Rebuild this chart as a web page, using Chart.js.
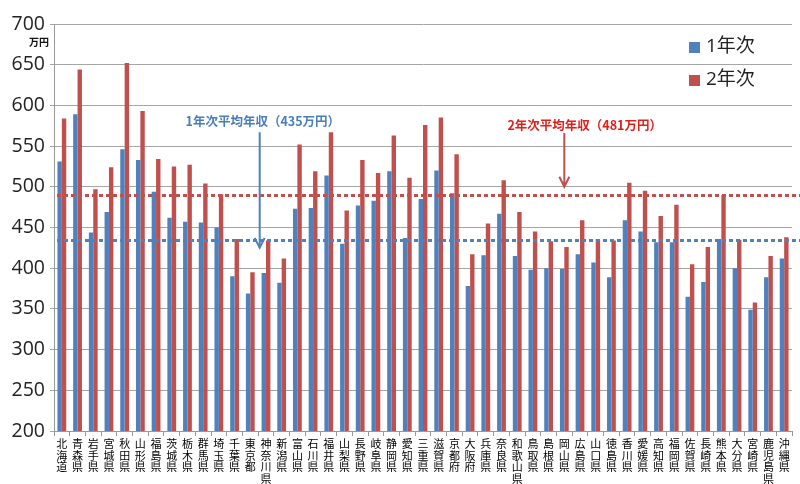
<!DOCTYPE html>
<html>
<head>
<meta charset="utf-8">
<script src="https://cdn.jsdelivr.net/npm/chart.js@4.4.1/dist/chart.umd.min.js"></script>
<style>
  html, body { margin: 0; padding: 0; background: #fff; }
  #wrap { width: 800px; height: 484px; }
</style>
</head>
<body>
<div id="wrap"><canvas id="c" width="800" height="484"></canvas></div>
<script>
const prefectures = ['北海道','青森県','岩手県','宮城県','秋田県','山形県','福島県','茨城県','栃木県','群馬県',
  '埼玉県','千葉県','東京都','神奈川県','新潟県','富山県','石川県','福井県','山梨県','長野県',
  '岐阜県','静岡県','愛知県','三重県','滋賀県','京都府','大阪府','兵庫県','奈良県','和歌山県',
  '鳥取県','島根県','岡山県','広島県','山口県','徳島県','香川県','愛媛県','高知県','福岡県',
  '佐賀県','長崎県','熊本県','大分県','宮崎県','鹿児島県','沖縄県'];

const year1 = [531,589,444,469,546,533,494,462,457,456,
  450,390,369,394,382,473,474,514,430,477,
  483,519,437,485,520,492,378,416,467,415,
  398,400,399,417,407,389,459,445,432,432,
  365,383,436,400,349,389,412];

const year2 = [584,644,497,524,652,593,534,525,527,504,
  491,436,395,434,412,552,519,567,471,533,
  517,563,511,576,585,540,417,455,508,469,
  445,433,426,459,436,434,505,495,464,478,
  405,426,490,435,358,415,438];

const seriesNames = ['1年次', '2年次'];
const avgLine1 = 435;
const avgLine2 = 490;
const avgText1 = '1年次平均年収（435万円）';
const avgText2 = '2年次平均年収（481万円）';

const BLUE = '#4F81BD';
const RED = '#C0504D';

// 平均線・矢印・凡例・単位
const overlay = {
  id: 'overlay',
  afterDatasetsDraw(chart) {
    const ctx = chart.ctx;
    const xs = chart.scales.x, ys = chart.scales.y;
    const area = chart.chartArea;

    ctx.save();
    // 点線
    ctx.lineWidth = 3;
    ctx.setLineDash([4, 3]);
    [[avgLine2, RED], [avgLine1, BLUE]].forEach(([v, col]) => {
      const y = Math.round(ys.getPixelForValue(v)) + 0.5;
      ctx.strokeStyle = col;
      ctx.beginPath();
      ctx.moveTo(area.left + 3, y);
      ctx.lineTo(chart.width, y);
      ctx.stroke();
    });
    ctx.setLineDash([]);

    // 矢印
    function arrow(xv, y0, y1, col) {
      const x = xs.getPixelForValue(xv);
      const top = ys.getPixelForValue(y0), bot = ys.getPixelForValue(y1);
      ctx.strokeStyle = col;
      ctx.lineWidth = 2;
      ctx.beginPath();
      ctx.moveTo(x, top);
      ctx.lineTo(x, bot);
      ctx.moveTo(x - 5, bot - 10);
      ctx.lineTo(x, bot);
      ctx.lineTo(x + 5, bot - 10);
      ctx.stroke();
    }
    arrow(12.6, 567, 425, BLUE);
    arrow(32, 566, 500, RED);

    ctx.font = 'bold 12.5px "Noto Sans CJK JP", sans-serif';
    ctx.textAlign = 'center';
    ctx.textBaseline = 'middle';
    ctx.fillStyle = '#4A7EBB';
    ctx.fillText(avgText1, xs.getPixelForValue(12.8), ys.getPixelForValue(581));
    ctx.fillStyle = '#E0201B';
    ctx.fillText(avgText2, xs.getPixelForValue(33.3), ys.getPixelForValue(576));

    // 凡例
    ctx.textAlign = 'left';
    ctx.font = '19px "Open Sans", "Noto Sans CJK JP", sans-serif';
    [[BLUE, 47], [RED, 80]].forEach(([col, y], i) => {
      ctx.fillStyle = col;
      ctx.fillRect(689, y - 5, 11, 11);
      ctx.fillStyle = '#222';
      ctx.fillText(seriesNames[i], 706, y);
    });

    // 単位
    ctx.font = 'bold 10px "Noto Sans CJK JP", sans-serif';
    ctx.fillStyle = '#111';
    ctx.fillText('万円', 29, 42);
    ctx.restore();
  }
};

new Chart(document.getElementById('c'), {
  type: 'bar',
  data: {
    labels: prefectures.map(p => p.split('')),
    datasets: [
      { label: seriesNames[0], data: year1, backgroundColor: BLUE,
        barPercentage: 1.0, categoryPercentage: 0.56 },
      { label: seriesNames[1], data: year2, backgroundColor: RED,
        barPercentage: 1.0, categoryPercentage: 0.56 }
    ]
  },
  options: {
    responsive: false,
    animation: false,
    layout: { padding: { top: 24, right: 8, left: 0, bottom: 0 } },
    plugins: {
      legend: { display: false },
      tooltip: { enabled: false }
    },
    scales: {
      x: {
        offset: true,
        grid: { display: true, drawOnChartArea: false, offset: true, tickLength: 5, color: '#999' },
        border: { color: '#999' },
        ticks: {
          autoSkip: false, maxRotation: 0, minRotation: 0, padding: 2,
          color: '#000',
          font: { size: 11, family: '"Noto Sans CJK JP", sans-serif', lineHeight: 1.05 }
        },
        afterFit(s) { s.height = 53; }
      },
      y: {
        min: 200, max: 700,
        ticks: {
          stepSize: 50, padding: 5, color: '#222',
          font: { size: 19.5, family: '"Open Sans", sans-serif' }
        },
        grid: { color: '#A6A6A6', tickLength: 4 },
        border: { color: '#999' },
        afterFit(s) { s.width = 54; }
      }
    }
  },
  plugins: [overlay]
});
</script>
</body>
</html>
